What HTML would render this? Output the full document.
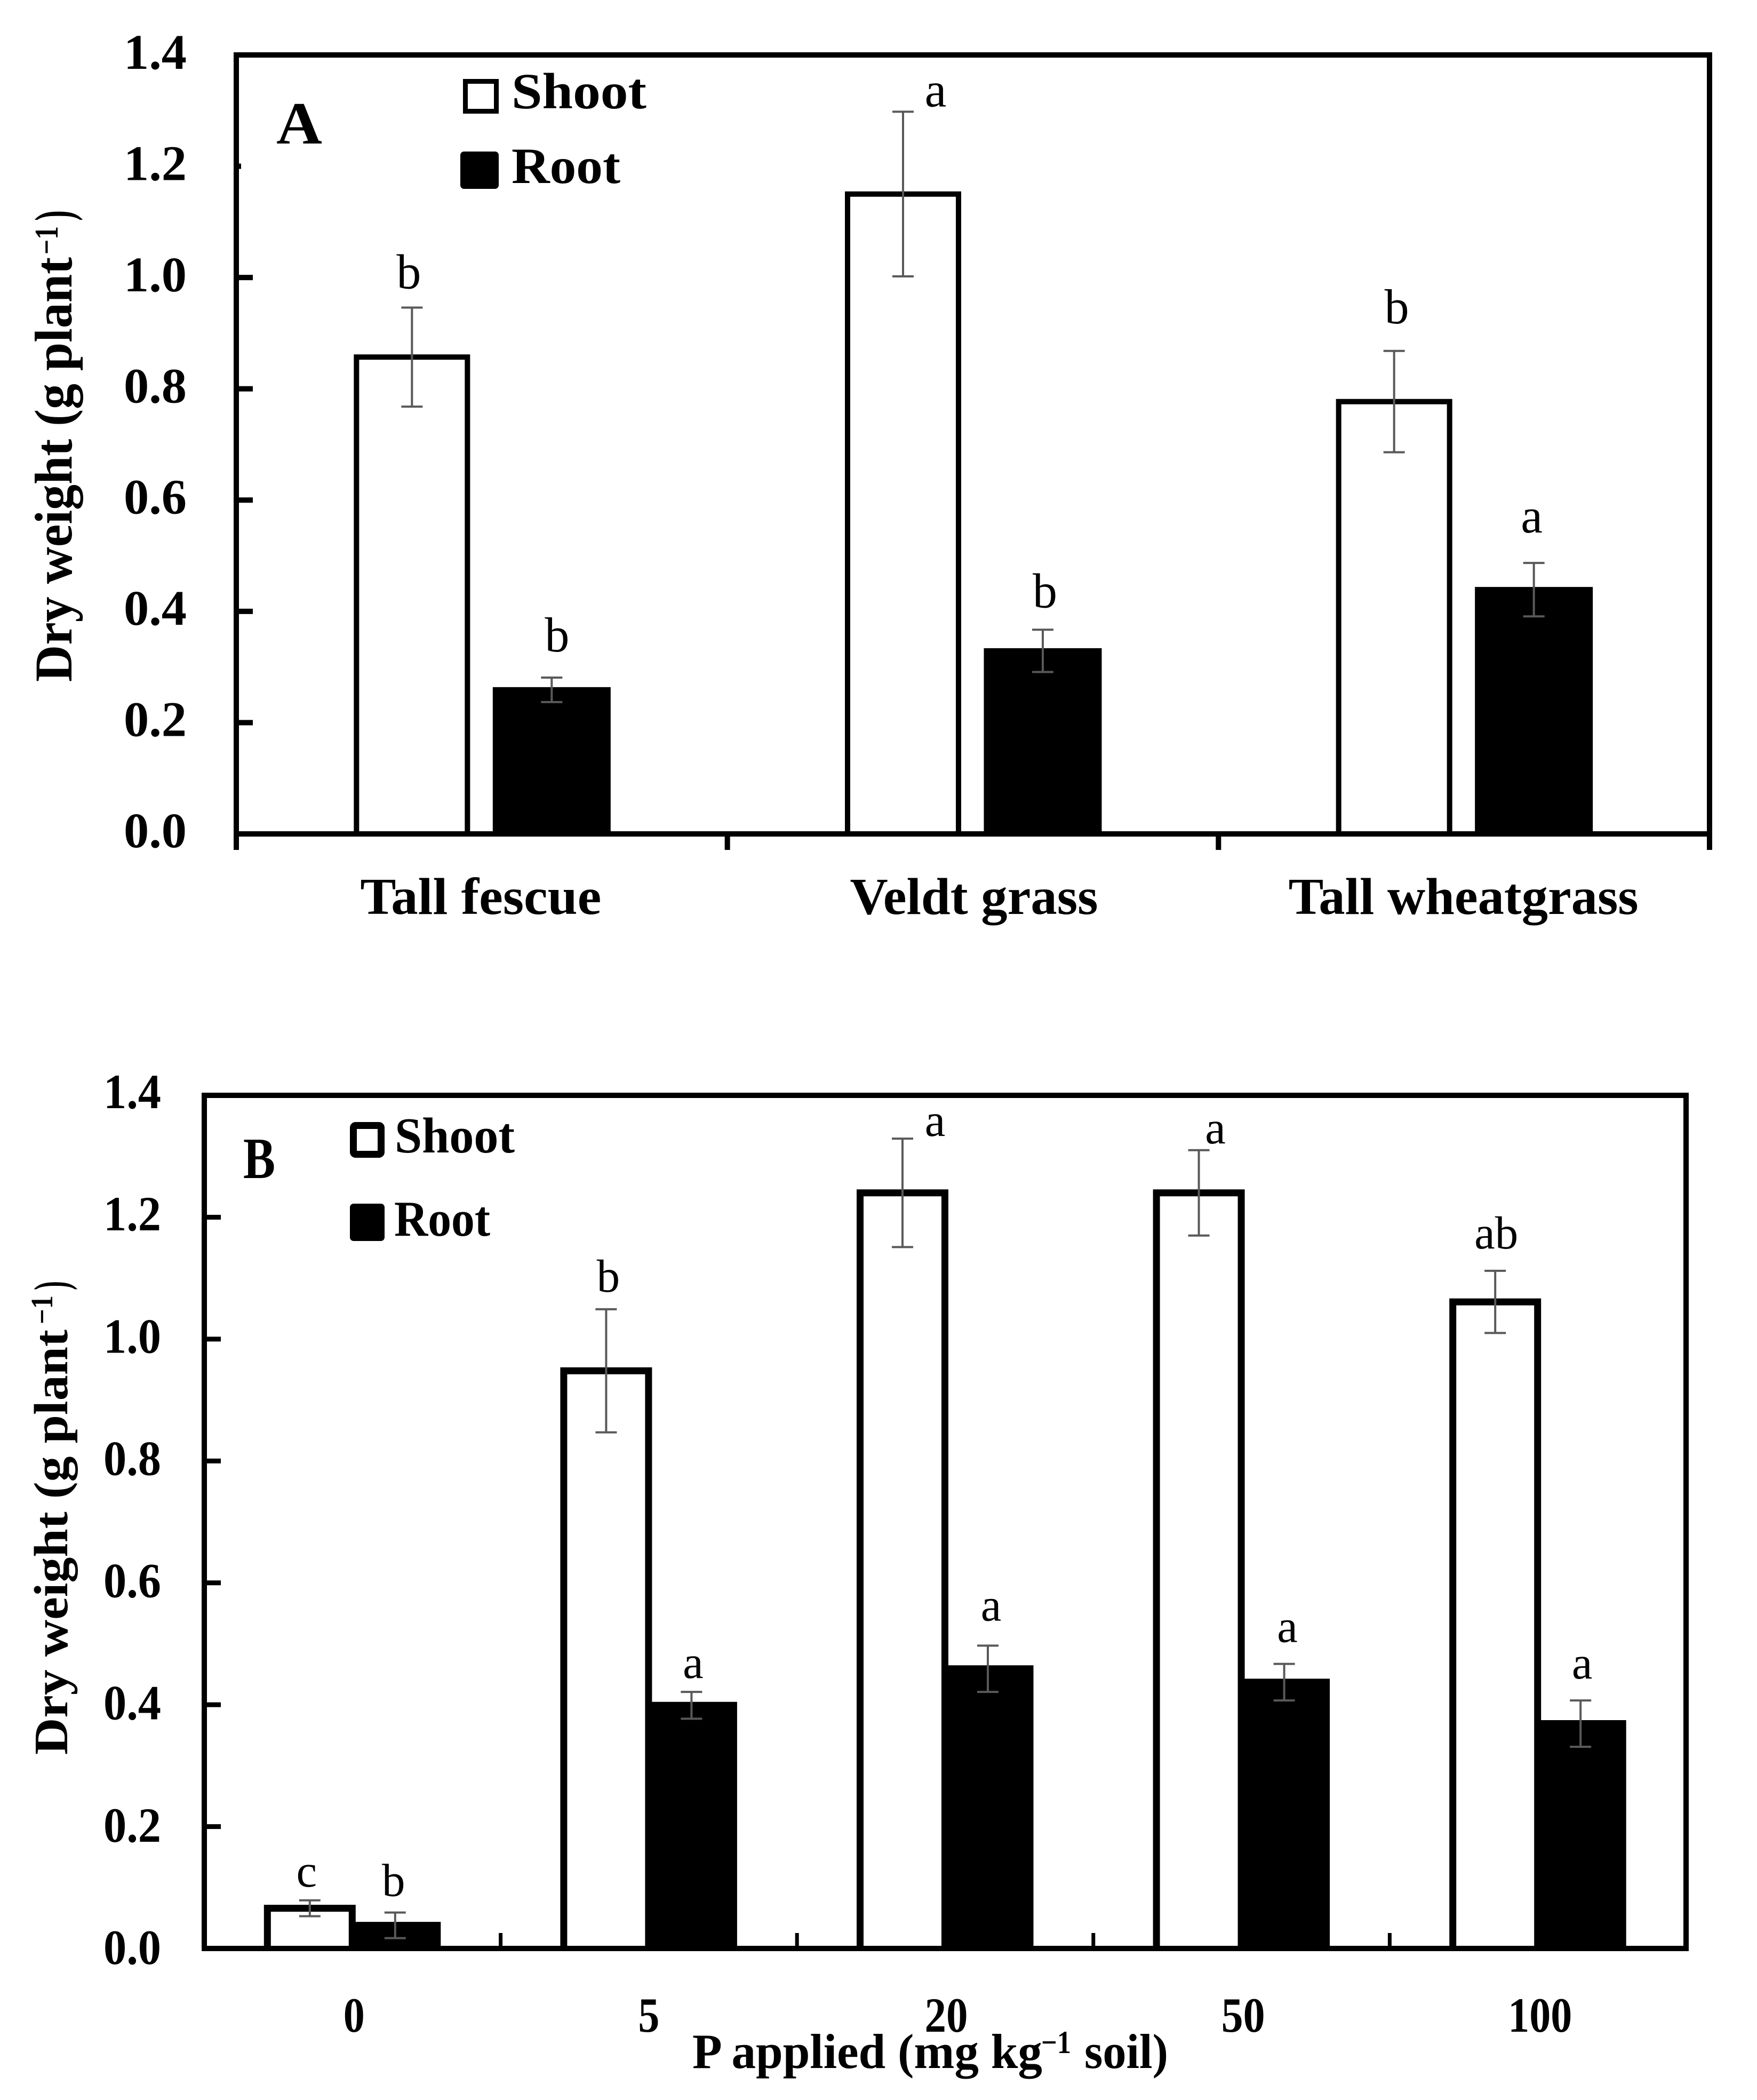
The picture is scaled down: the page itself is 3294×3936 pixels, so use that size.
<!DOCTYPE html>
<html lang="en">
<head>
<meta charset="utf-8">
<title>Dry weight of shoot and root</title>
<style>
html,body{margin:0;padding:0;background:#fff;}
svg{display:block;}
text{font-family:"Liberation Serif",serif;fill:#000;}
.b{font-weight:bold;}
</style>
</head>
<body>
<svg id="chart" xmlns="http://www.w3.org/2000/svg" width="3294" height="3936" viewBox="0 0 3294 3936">
<rect x="0" y="0" width="3294" height="3936" fill="#fff"/>

<g id="panelA"></g>
<g id="panelB"></g>

<!-- Panel A static text and legend -->
<text class="b" x="518" y="269" font-size="112" textLength="86" lengthAdjust="spacingAndGlyphs">A</text>
<rect x="872.5" y="152.5" width="58" height="56" fill="#fff" stroke="#000" stroke-width="9"/>
<text class="b" x="959" y="203" font-size="95" textLength="253" lengthAdjust="spacingAndGlyphs">Shoot</text>
<rect x="863" y="284" width="72" height="70" rx="7" fill="#000"/>
<text class="b" x="959" y="343" font-size="95" textLength="204" lengthAdjust="spacingAndGlyphs">Root</text>
<g>
<text class="b" transform="translate(134,1278) rotate(-90)" font-size="100" textLength="796" lengthAdjust="spacingAndGlyphs">Dry weight (g plant</text>
<text class="b" transform="translate(108,477) rotate(-90)" font-size="62" textLength="53" lengthAdjust="spacingAndGlyphs">−1</text>
<text class="b" transform="translate(134,414) rotate(-90)" font-size="100" textLength="20" lengthAdjust="spacingAndGlyphs">)</text>
</g>

<!-- Panel B static text and legend -->
<text class="b" x="456" y="2208" font-size="109" textLength="60" lengthAdjust="spacingAndGlyphs">B</text>
<rect x="662.5" y="2109.5" width="52" height="54" rx="4" fill="#fff" stroke="#000" stroke-width="13"/>
<text class="b" x="740" y="2160" font-size="94" textLength="225" lengthAdjust="spacingAndGlyphs">Shoot</text>
<rect x="656" y="2256" width="65" height="70" rx="7" fill="#000"/>
<text class="b" x="739" y="2316" font-size="94" textLength="180" lengthAdjust="spacingAndGlyphs">Root</text>
<g>
<text class="b" transform="translate(126,3289) rotate(-90)" font-size="90" textLength="797" lengthAdjust="spacingAndGlyphs">Dry weight (g plant</text>
<text class="b" transform="translate(98,2482) rotate(-90)" font-size="58" textLength="54" lengthAdjust="spacingAndGlyphs">−1</text>
<text class="b" transform="translate(126,2418) rotate(-90)" font-size="90" textLength="17" lengthAdjust="spacingAndGlyphs">)</text>
</g>
<g>
<text class="b" x="1298" y="3876" font-size="92" textLength="656" lengthAdjust="spacingAndGlyphs">P applied (mg kg</text>
<text class="b" x="1952" y="3848" font-size="60" textLength="56" lengthAdjust="spacingAndGlyphs">−1</text>
<text class="b" x="2033" y="3876" font-size="92" textLength="157" lengthAdjust="spacingAndGlyphs">soil)</text>
</g>
</svg>

<script>
// ---- Panel A data ----
const yTickLabels = ['0.0', '0.2', '0.4', '0.6', '0.8', '1.0', '1.2', '1.4'];
const categoriesA = ['Tall fescue', 'Veldt grass', 'Tall wheatgrass'];
const shootA = [0.857, 1.15, 0.777];
const rootA = [0.259, 0.329, 0.439];
const shootErrA = [0.089, 0.148, 0.091];
const rootErrA = [0.022, 0.038, 0.048];
const shootLettersA = ['b', 'a', 'b'];
const rootLettersA = ['b', 'b', 'a'];

// ---- Panel B data ----
const categoriesB = ['0', '5', '20', '50', '100'];
const shootB = [0.066, 0.948, 1.24, 1.24, 1.061];
const rootB = [0.038, 0.399, 0.459, 0.437, 0.369];
const shootErrB = [0.013, 0.101, 0.089, 0.07, 0.051];
const rootErrB = [0.021, 0.022, 0.038, 0.03, 0.038];
const shootLettersB = ['c', 'b', 'a', 'a', 'ab'];
const rootLettersB = ['b', 'a', 'a', 'a', 'a'];

// ---- Layout (pixels, separate from the data) ----
const layoutA = {
  left: 443, right: 3205, top: 103, base: 1563, yMax: 1.4, spine: 10,
  shootOffset: -131, shootWidth: 208, barStroke: 10,
  rootOffset: 131, rootWidth: 211,
  tickFont: 93, tickWidth: 118, tickRight: 350, tickDropTop: 26, tickDropBase: 25,
  catFont: 98, catBaseline: 1713, catWidths: [452, 465, 656], catShift: [-2, 2, -1],
  letterFont: 92,
  shootGap: [36, 10, 52], rootGap: [49, 42, 57],
  shootShift: [-6, 61, 5], rootShift: [10, 4, -4],
  xTicksUp: false, yTickLen: 31, yTickThick: 10
};
const layoutB = {
  left: 383, right: 3161, top: 2053, base: 3652, yMax: 1.4, spine: 10,
  shootOffset: -80, shootWidth: 159, barStroke: 13,
  rootOffset: 80, rootWidth: 158,
  tickFont: 92, tickWidth: 108, tickRight: 302, tickDropTop: 24, tickDropBase: 29,
  catFont: 92, catBaseline: 3808, catWidths: [40, 40, 81, 82, 120], catShift: [3, 0, 2, 3, 4],
  letterFont: 87,
  shootGap: [26, 33, 5, 13, 42], rootGap: [31, 26, 47, 41, 41],
  shootShift: [-6, 4, 61, 31, 2], rootShift: [-3, 3, 6, 6, 3],
  xTicksUp: true, yTickLen: 31, yTickThick: 9
};

const NS = 'http://www.w3.org/2000/svg';
function mk(tag, attrs, parent) {
  const el = document.createElementNS(NS, tag);
  for (const k in attrs) el.setAttribute(k, attrs[k]);
  parent.appendChild(el);
  return el;
}

function drawPanel(root, L, cats, shoot, rootVals, shootErr, rootErr, shootLetters, rootLetters) {
  const n = cats.length;
  const band = (L.right - L.left) / n;
  const xCenter = i => L.left + band * (i + 0.5);
  const y = v => L.base - (v / L.yMax) * (L.base - L.top);
  const barPath = (cx, w, v) => 'M' + (cx - w / 2) + ' ' + L.base + ' V' + y(v) + ' H' + (cx + w / 2) + ' V' + L.base;

  // y ticks and labels
  yTickLabels.forEach((lab, i) => {
    const v = parseFloat(lab);
    if (i > 0 && i < yTickLabels.length - 1) {
      const shortTick = !L.xTicksUp && lab === '1.2';
      const t = mk('rect', {x: L.left, y: y(v) - L.yTickThick / 2, width: shortTick ? 9 : L.yTickLen, height: L.yTickThick, fill: '#000'}, root);
      
      
    }
    const frac = i / (yTickLabels.length - 1);
    const drop = L.tickDropBase + (L.tickDropTop - L.tickDropBase) * frac;
    const tx = mk('text', {x: L.tickRight - L.tickWidth, y: y(v) + drop, 'font-size': L.tickFont, 'font-weight': 'bold', textLength: L.tickWidth, lengthAdjust: 'spacingAndGlyphs'}, root);
    tx.textContent = lab;
    
    
  });

  // x ticks
  for (let i = 0; i <= n; i++) {
    const px = L.left + band * i;
    let t;
    if (L.xTicksUp) {
      if (i === 0 || i === n) continue;
      t = mk('rect', {x: px - 3.5, y: L.base - 29, width: 7, height: 29, fill: '#000'}, root);
    } else {
      t = mk('rect', {x: px - 5, y: L.base, width: 10, height: 30, fill: '#000'}, root);
    }
    
    
  }

  // category labels
  cats.forEach((c, i) => {
    const w = L.catWidths[i];
    const tx = mk('text', {x: xCenter(i) + L.catShift[i] - w / 2, y: L.catBaseline, 'font-size': L.catFont, 'font-weight': 'bold', textLength: w, lengthAdjust: 'spacingAndGlyphs'}, root);
    tx.textContent = c;
    
    
  });

  // bars (open at the bottom so they sit on the axis line)
  cats.forEach((c, i) => {
    const s = mk('path', {d: barPath(xCenter(i) + L.shootOffset, L.shootWidth, shoot[i]), fill: '#fff', stroke: '#000', 'stroke-width': L.barStroke}, root);
    
    

    const r = mk('path', {d: barPath(xCenter(i) + L.rootOffset, L.rootWidth, rootVals[i]), fill: '#000', stroke: '#000', 'stroke-width': L.barStroke}, root);
    
    
  });

  // frame
  const frame = mk('path', {d: 'M' + L.left + ' ' + L.base + ' V' + L.top + ' H' + L.right + ' V' + L.base + ' Z', fill: 'none', stroke: '#000', 'stroke-width': L.spine, 'stroke-linecap': 'square'}, root);
  
  

  // error bars and letters
  function errorBar(px, v, e, name) {
    const d = 'M' + px + ' ' + y(v + e) + ' V' + y(v - e) +
      ' M' + (px - 20) + ' ' + y(v + e) + ' H' + (px + 20) +
      ' M' + (px - 20) + ' ' + y(v - e) + ' H' + (px + 20);
    const p = mk('path', {d: d, fill: 'none', stroke: '#595959', 'stroke-width': 4}, root);
    
    
  }
  function letter(px, v, e, gap, str, name) {
    const t = mk('text', {x: px, y: y(v + e) - gap, 'font-size': L.letterFont, 'text-anchor': 'middle', fill: '#1a1a1a'}, root);
    t.textContent = str;
    
    
  }
  cats.forEach((c, i) => {
    const sx = xCenter(i) + L.shootOffset;
    const rx = xCenter(i) + L.rootOffset;
    errorBar(sx, shoot[i], shootErr[i], 'error-bar-shoot');
    errorBar(rx, rootVals[i], rootErr[i], 'error-bar-root');
    letter(sx + L.shootShift[i], shoot[i], shootErr[i], L.shootGap[i], shootLetters[i], 'significance-letter-shoot');
    letter(rx + L.rootShift[i], rootVals[i], rootErr[i], L.rootGap[i], rootLetters[i], 'significance-letter-root');
  });
}

drawPanel(document.getElementById('panelA'), layoutA, categoriesA, shootA, rootA, shootErrA, rootErrA, shootLettersA, rootLettersA);
drawPanel(document.getElementById('panelB'), layoutB, categoriesB, shootB, rootB, shootErrB, rootErrB, shootLettersB, rootLettersB);
</script>
</body>
</html>
